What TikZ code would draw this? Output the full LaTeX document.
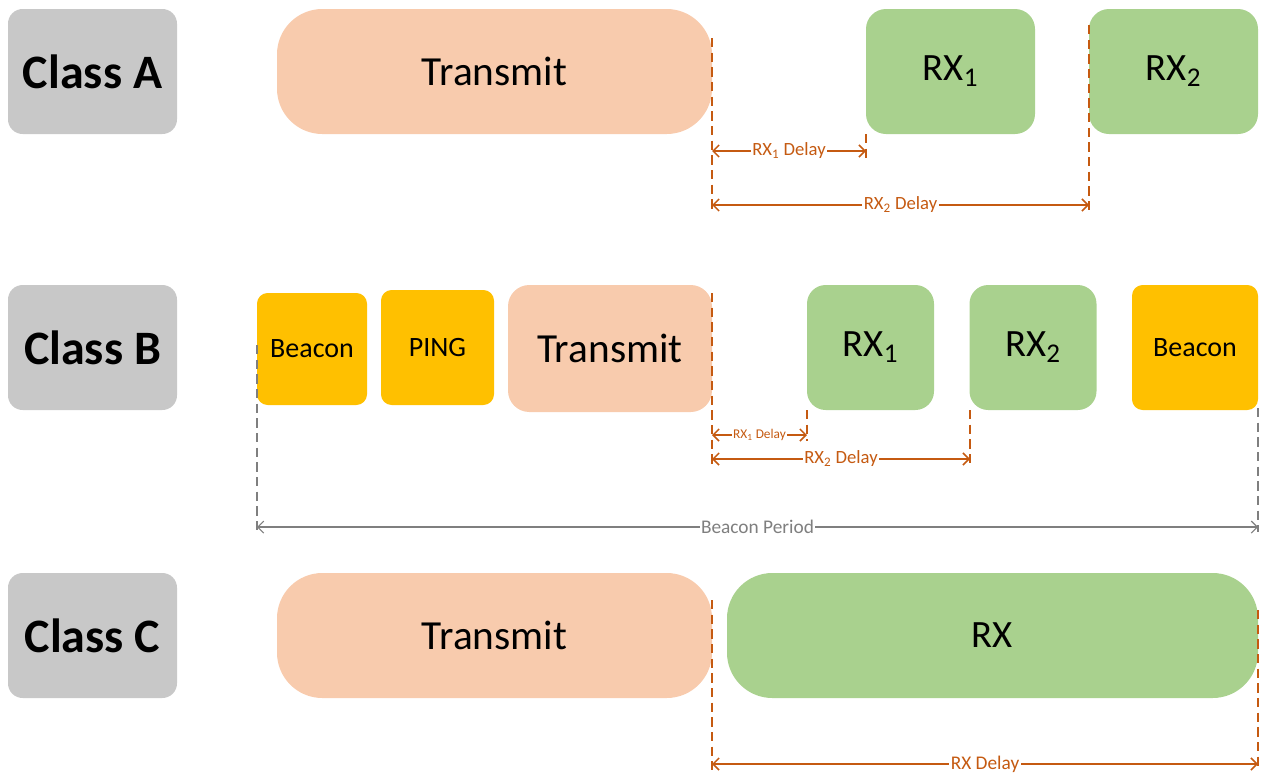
\documentclass[tikz,border=0pt]{standalone}
\usepackage{fontspec}
\setmainfont{Carlito}
\usetikzlibrary{arrows.meta}
\definecolor{clsgray}{HTML}{C8C8C8}
\definecolor{peach}{HTML}{F8CBAD}
\definecolor{lgreen}{HTML}{A9D18E}
\definecolor{amber}{HTML}{FFC000}
\definecolor{rust}{HTML}{C55A11}
\definecolor{midgray}{HTML}{7F7F7F}
\tikzset{
  blk/.style={draw=none, inner sep=0pt, align=center, text=black},
  clsbox/.style={blk, fill=clsgray, minimum width=126.75pt, minimum height=93.75pt, rounded corners=11pt, font=\fontsize{36}{40}\selectfont\bfseries},
  txlong/.style={blk, fill=peach, minimum width=326.25pt, minimum height=93.75pt, rounded corners=34pt, font=\fontsize{31}{36}\selectfont},
  rxbox/.style={blk, fill=lgreen, minimum width=126.75pt, minimum height=93.75pt, rounded corners=15pt, font=\fontsize{29}{34}\selectfont},
  rxsmall/.style={blk, fill=lgreen, minimum width=95.25pt, minimum height=93.75pt, rounded corners=14pt, font=\fontsize{29}{34}\selectfont},
  ybox/.style={blk, fill=amber, rounded corners=8pt, font=\fontsize{21}{25}\selectfont},
  vdash/.style={draw=rust, line width=1.1pt, dash pattern=on 7pt off 4pt},
  gdash/.style={draw=midgray, line width=0.8pt, dash pattern=on 7pt off 4pt},
  dimarrow/.style={draw=rust, line width=1.1pt, {Straight Barb[length=4.5pt,width=9pt]}-{Straight Barb[length=4.5pt,width=9pt]}},
  garrow/.style={draw=midgray, line width=0.8pt, {Straight Barb[length=4.5pt,width=9pt]}-{Straight Barb[length=4.5pt,width=9pt]}},
  dlabel/.style={fill=white, inner sep=1pt, text=rust},
  glabel/.style={fill=white, inner sep=1pt, text=midgray},
}
\begin{document}
\begin{tikzpicture}[x=0.75pt,y=-0.75pt]
\useasboundingbox (0,0) rectangle (1271,776);
% class labels
\node[clsbox] (ca) at (92.5,71.5) {Class A};
\node[clsbox] (cb) at (92.5,347.5) {Class B};
\node[clsbox] (cc) at (92.5,635.5) {Class C};
% row A
\node[txlong] (ta) at (494.5,71.5) {Transmit};
\node[rxbox] (ra1) at (950.5,71.5) {RX\textsubscript{1}};
\node[rxbox] (ra2) at (1173.5,71.5) {RX\textsubscript{2}};
% row B
\node[ybox, minimum width=82.5pt, minimum height=84pt] (bb1) at (312,349) {Beacon};
\node[ybox, minimum width=84.75pt, minimum height=86.25pt] (bp) at (437.5,347.5) {PING};
\node[blk, fill=peach, minimum width=153pt, minimum height=95.25pt, rounded corners=16pt, font=\fontsize{31}{36}\selectfont] (tb) at (610,348.5) {Transmit};
\node[rxsmall] (rb1) at (870.5,347.5) {RX\textsubscript{1}};
\node[rxsmall] (rb2) at (1033,347.5) {RX\textsubscript{2}};
\node[ybox, minimum width=94.5pt, minimum height=93.75pt] (bb2) at (1195,347.5) {Beacon};
% row C
\node[txlong] (tc) at (494.5,635.5) {Transmit};
\node[blk, fill=lgreen, minimum width=398.25pt, minimum height=93.75pt, rounded corners=34pt, font=\fontsize{29}{34}\selectfont] (rc) at (992.5,635.5) {RX};

% row A dimension lines
\coordinate (aT0) at (712,38);  \coordinate (aT1) at (712,210);
\coordinate (aR0) at (866,134); \coordinate (aR1) at (866,160);
\coordinate (aS0) at (1089,25); \coordinate (aS1) at (1089,210);
\draw[vdash] (aT0) -- (aT1);
\draw[vdash] (aR0) -- (aR1);
\draw[vdash] (aS0) -- (aS1);
\coordinate (a1l) at (712,151); \coordinate (a1r) at (866,151);
\coordinate (a2l) at (712,205); \coordinate (a2r) at (1089,205);
\draw[dimarrow] (a1l) -- node[dlabel, font=\fontsize{14}{16}\selectfont] (la1) {RX\textsubscript{1} Delay} (a1r);
\draw[dimarrow] (a2l) -- node[dlabel, font=\fontsize{14}{16}\selectfont] (la2) {RX\textsubscript{2} Delay} (a2r);

% row B dimension lines
\coordinate (bT0) at (712,293); \coordinate (bT1) at (712,465);
\coordinate (bR0) at (807,410); \coordinate (bR1) at (807,441);
\coordinate (bS0) at (970,410); \coordinate (bS1) at (970,463);
\draw[vdash] (bT0) -- (bT1);
\draw[vdash] (bR0) -- (bR1);
\draw[vdash] (bS0) -- (bS1);
\coordinate (b1l) at (712,435); \coordinate (b1r) at (807,435);
\coordinate (b2l) at (712,459); \coordinate (b2r) at (970,459);
\draw[dimarrow] (b1l) -- node[dlabel, font=\fontsize{10}{12}\selectfont] (lb1) {RX\textsubscript{1} Delay} (b1r);
\draw[dimarrow] (b2l) -- node[dlabel, font=\fontsize{14}{16}\selectfont] (lb2) {RX\textsubscript{2} Delay} (b2r);
% beacon period
\coordinate (gL0) at (257,345); \coordinate (gL1) at (257,532);
\coordinate (gR0) at (1258,408); \coordinate (gR1) at (1258,532);
\draw[gdash] (gL0) -- (gL1);
\draw[gdash] (gR0) -- (gR1);
\coordinate (gl) at (257,527); \coordinate (gr) at (1258,527);
\draw[garrow] (gl) -- node[glabel, font=\fontsize{14.5}{16}\selectfont] (lbp) {Beacon Period} (gr);

% row C dimension lines
\coordinate (cT0) at (712,600); \coordinate (cT1) at (712,770);
\coordinate (cR0) at (1258,610); \coordinate (cR1) at (1258,770);
\draw[vdash] (cT0) -- (cT1);
\draw[vdash] (cR0) -- (cR1);
\coordinate (cl) at (712,764); \coordinate (cr) at (1258,764);
\draw[dimarrow] (cl) -- node[dlabel, font=\fontsize{14.5}{16}\selectfont] (lc) {RX Delay} (cr);
\end{tikzpicture}
\end{document}
